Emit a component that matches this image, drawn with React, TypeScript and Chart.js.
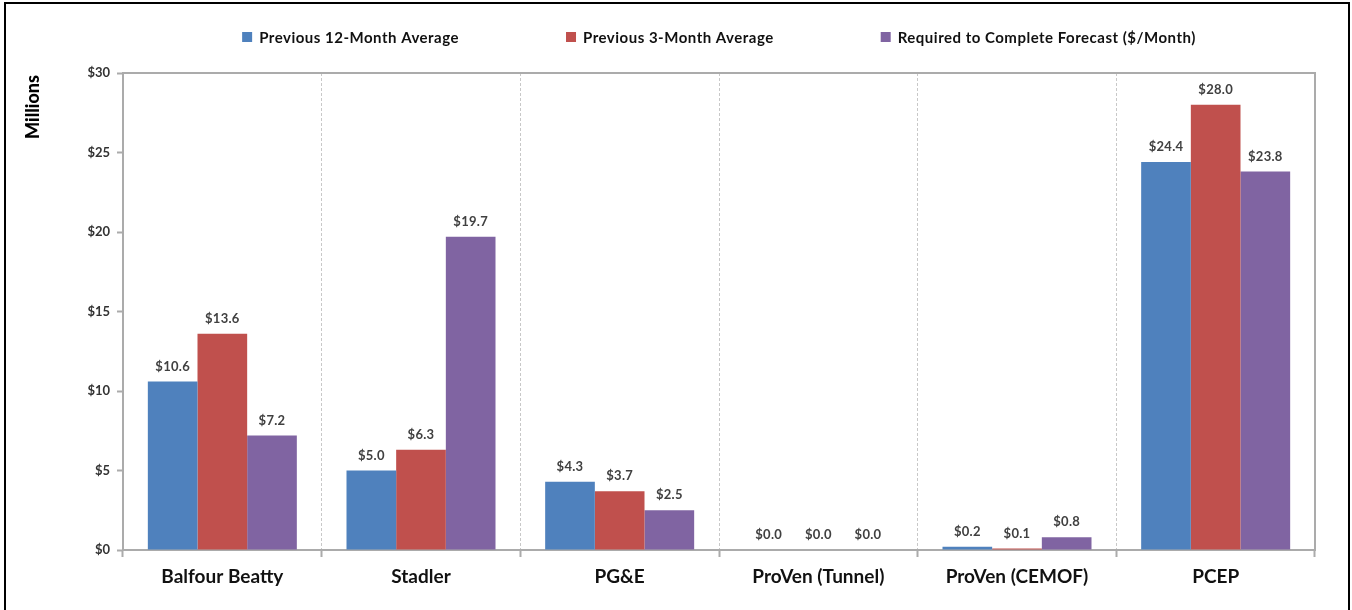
import React, { useEffect, useRef } from "react";
import { Chart, registerables } from "chart.js";

Chart.register(...registerables);

const categories = ["Balfour Beatty", "Stadler", "PG&E", "ProVen (Tunnel)", "ProVen (CEMOF)", "PCEP"];
const seriesNames = [
  "Previous 12-Month Average",
  "Previous 3-Month Average",
  "Required to Complete Forecast ($/Month)",
];
const prev12Month = [10.6, 5.0, 4.3, 0.0, 0.2, 24.4];
const prev3Month = [13.6, 6.3, 3.7, 0.0, 0.1, 28.0];
const requiredForecast = [7.2, 19.7, 2.5, 0.0, 0.8, 23.8];
const yTickValues = [0, 5, 10, 15, 20, 25, 30];
const seriesColors = ["#4F81BD", "#C0504D", "#8064A2"];
const yAxisTitle = "Millions";

const FONT = "Lato, 'Open Sans', sans-serif";
const AXIS_GRAY = "#ababab";

const decorPlugin = {
  id: "decor",
  beforeDatasetsDraw(chart: any) {
    const { ctx, chartArea } = chart;
    ctx.save();
    ctx.strokeStyle = AXIS_GRAY;
    ctx.lineWidth = 2;
    ctx.beginPath();
    ctx.moveTo(chartArea.left, chartArea.top);
    ctx.lineTo(chartArea.right, chartArea.top);
    ctx.lineTo(chartArea.right, chartArea.bottom);
    ctx.stroke();
    ctx.restore();
  },
  afterDatasetsDraw(chart: any) {
    const { ctx } = chart;
    ctx.save();
    ctx.font = `bold 13px ${FONT}`;
    ctx.fillStyle = "#404040";
    ctx.textAlign = "center";
    ctx.textBaseline = "middle";
    (ctx as any).letterSpacing = "0.3px";
    chart.data.datasets.forEach((ds: any, di: number) => {
      const meta = chart.getDatasetMeta(di);
      meta.data.forEach((bar: any, i: number) => {
        const v = ds.data[i];
        ctx.fillText("$" + v.toFixed(1), bar.x, bar.y - 15);
      });
    });
    ctx.restore();
  },
  afterDraw(chart: any) {
    const { ctx, chartArea } = chart;
    ctx.save();
    // legend
    ctx.font = `bold 15px ${FONT}`;
    (ctx as any).letterSpacing = "0.5px";
    ctx.textBaseline = "middle";
    ctx.textAlign = "left";
    const box = 10;
    const boxGap = 7;
    const itemGap = 107;
    const items = chart.data.datasets.map((ds: any) => ({
      label: ds.label,
      color: ds.backgroundColor,
      w: box + boxGap + ctx.measureText(ds.label).width,
    }));
    const total = items.reduce((s: number, it: any) => s + it.w, 0) + itemGap * (items.length - 1);
    let x = (chartArea.left + chartArea.right) / 2 - total / 2;
    const cy = 37;
    items.forEach((it: any) => {
      ctx.fillStyle = it.color;
      ctx.fillRect(x, cy - box / 2, box, box);
      ctx.fillStyle = "#111";
      ctx.fillText(it.label, x + box + boxGap, cy + 1);
      x += it.w + itemGap;
    });
    // y-axis title
    (ctx as any).letterSpacing = "0px";
    ctx.translate(33, chartArea.top + 34);
    ctx.rotate(-Math.PI / 2);
    ctx.font = `900 18px ${FONT}`;
    ctx.fillStyle = "#000";
    ctx.textAlign = "center";
    ctx.textBaseline = "middle";
    ctx.fillText(yAxisTitle, 0, 0);
    ctx.restore();
  },
};

export default function App() {
  const canvasRef = useRef<HTMLCanvasElement | null>(null);

  useEffect(() => {
    const canvas = canvasRef.current;
    if (!canvas) return;
    const seriesData = [prev12Month, prev3Month, requiredForecast];
    const chart = new Chart(canvas, {
      type: "bar",
      data: {
        labels: categories,
        datasets: seriesNames.map((name, i) => ({
          label: name,
          data: seriesData[i],
          backgroundColor: seriesColors[i],
          borderWidth: 0,
          categoryPercentage: 0.75,
          barPercentage: 1,
        })),
      },
      plugins: [decorPlugin],
      options: {
        responsive: false,
        animation: false,
        devicePixelRatio: 1,
        layout: { padding: { left: 0, right: 37, top: 73, bottom: 0 } },
        plugins: {
          legend: { display: false },
          tooltip: { enabled: false },
          title: { display: false },
        },
        scales: {
          x: {
            grid: {
              offset: true,
              drawOnChartArea: true,
              color: "#c8c8c8",
              lineWidth: 1,
              drawTicks: true,
              tickLength: 7,
              tickColor: AXIS_GRAY,
              tickWidth: 2,
              tickBorderDash: [],
            },
            border: { display: true, color: AXIS_GRAY, width: 2, dash: [3, 2] },
            ticks: {
              color: "#111",
              padding: 8,
              font: { family: FONT, size: 19, weight: "bold" },
            },
            afterFit: (scale: any) => {
              scale.height = 60;
            },
          },
          y: {
            min: 0,
            max: 30,
            afterBuildTicks: (scale: any) => {
              scale.ticks = yTickValues.map((v) => ({ value: v }));
            },
            grid: {
              drawOnChartArea: false,
              drawTicks: true,
              tickLength: 6,
              tickColor: AXIS_GRAY,
              tickWidth: 2,
            },
            border: { display: true, color: AXIS_GRAY, width: 2 },
            ticks: {
              color: "#333",
              padding: 7,
              font: { family: FONT, size: 13, weight: "bold" },
              callback: (v: any) => "$" + v,
            },
            afterFit: (scale: any) => {
              scale.width = 123;
            },
          },
        },
      },
    });
    return () => chart.destroy();
  }, []);

  return (
    <div
      style={{
        position: "fixed",
        left: 0,
        top: 0,
        width: 1352,
        height: 610,
        background: "#fff",
        overflow: "hidden",
      }}
    >
      <div
        style={{
          position: "absolute",
          left: 4,
          top: 2,
          width: 1342,
          height: 640,
          borderTop: "2px solid #000",
          borderLeft: "2px solid #000",
          borderRight: "2px solid #000",
        }}
      />
      <canvas
        ref={canvasRef}
        width={1352}
        height={610}
        style={{ position: "absolute", left: 0, top: 0, width: 1352, height: 610 }}
      />
    </div>
  );
}
